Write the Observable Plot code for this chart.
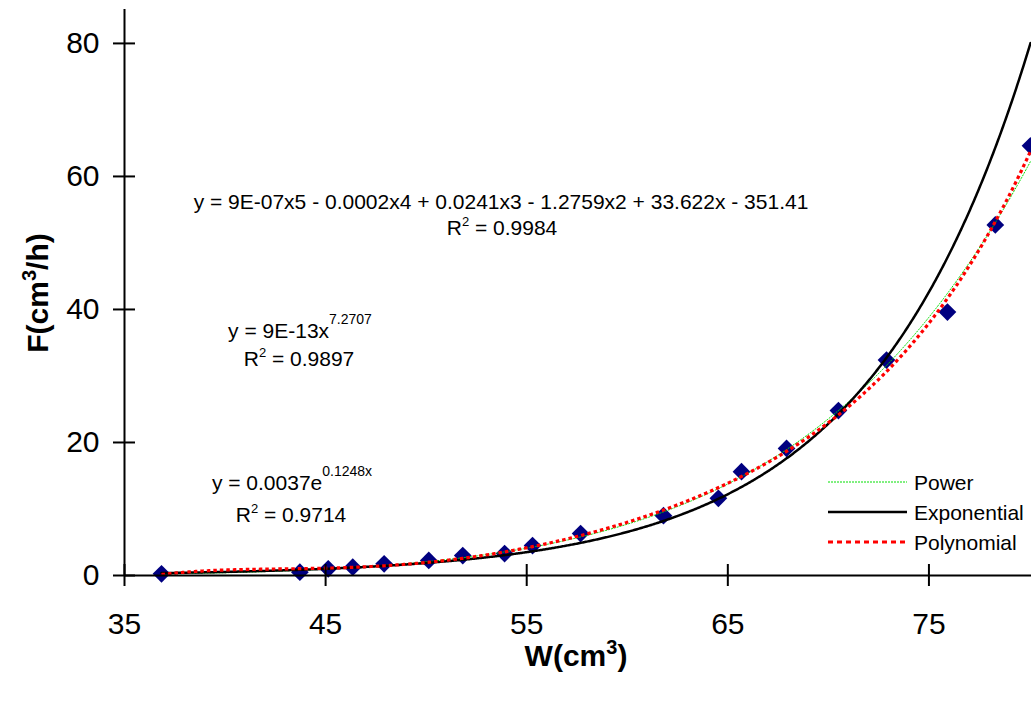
<!DOCTYPE html>
<html><head><meta charset="utf-8">
<script src="https://cdn.jsdelivr.net/npm/d3@7"></script>
<script src="https://cdn.jsdelivr.net/npm/@observablehq/plot@0.6"></script>
<style>
body{margin:0;background:#fff;font-family:"Liberation Sans",Arial,sans-serif;}
#wrap{position:relative;width:1031px;height:704px;overflow:hidden;background:#fff}
.ann{position:absolute;font-size:21px;white-space:nowrap;transform:translateX(-50%);line-height:1;color:#000}
.ann sup{line-height:0;font-size:14px;vertical-align:14px}
.ann sup.r{font-size:13px;vertical-align:9px}
.leg{position:absolute;font-size:21px;line-height:1;white-space:nowrap;color:#000}
.title{position:absolute;font-weight:bold;font-size:30px;line-height:1;white-space:nowrap;color:#000}
.title sup{line-height:0;font-size:20px;vertical-align:12px}
</style></head>
<body>
<div id="wrap"></div>
<script>
// Data
const W = [36.84, 43.72, 45.13, 46.35, 47.91, 50.13, 51.82, 53.9, 55.29, 57.68, 61.8, 64.53, 65.68, 67.92, 70.5, 72.89, 75.92, 78.3, 80.05];
const F = [0.25, 0.5, 1.0, 1.25, 1.76, 2.26, 3.0, 3.3, 4.5, 6.3, 9.0, 11.6, 15.6, 19.1, 24.8, 32.4, 39.6, 52.7, 64.6];
const xTicks = [35, 45, 55, 65, 75];
const yTicks = [0, 20, 40, 60, 80];
const seriesNames = ["Power", "Exponential", "Polynomial"];
const eqPoly = "y = 9E-07x5 - 0.0002x4 + 0.0241x3 - 1.2759x2 + 33.622x - 351.41";
const r2Poly = "0.9984";
const eqPowA = "y = 9E-13x", eqPowB = "7.2707", r2Pow = "0.9897";
const eqExpA = "y = 0.0037e", eqExpB = "0.1248x", r2Exp = "0.9714";

const data = W.map((w, i) => ({w, f: F[i]}));

// Least-squares trendlines fitted to the data (as the original chart software does)
function linfit(xs, ys) {
  const mx = d3.mean(xs), my = d3.mean(ys);
  let sxy = 0, sxx = 0;
  xs.forEach((x, i) => { sxy += (x - mx) * (ys[i] - my); sxx += (x - mx) ** 2; });
  const b = sxy / sxx;
  return {a: my - b * mx, b};
}
function polyfit(xs, ys, deg) {
  const n = deg + 1;
  const A = Array.from({length: n}, () => new Array(n + 1).fill(0));
  xs.forEach((x, k) => {
    for (let i = 0; i < n; i++) {
      for (let j = 0; j < n; j++) A[i][j] += Math.pow(x, i + j);
      A[i][n] += ys[k] * Math.pow(x, i);
    }
  });
  for (let c = 0; c < n; c++) {
    let p = c;
    for (let r = c + 1; r < n; r++) if (Math.abs(A[r][c]) > Math.abs(A[p][c])) p = r;
    [A[c], A[p]] = [A[p], A[c]];
    for (let r = 0; r < n; r++) {
      if (r === c) continue;
      const f = A[r][c] / A[c][c];
      for (let j = c; j <= n; j++) A[r][j] -= f * A[c][j];
    }
  }
  return A.map((row, i) => row[n] / row[i]);
}
const lnF = F.map(Math.log);
const pw = linfit(W.map(Math.log), lnF);
const ex = linfit(W, lnF);
const t0 = 60, ts = 20;
const pc = polyfit(W.map(w => (w - t0) / ts), F, 5);
const polyAt = w => { const t = (w - t0) / ts; return pc.reduce((s, c, i) => s + c * Math.pow(t, i), 0); };

const wMin = d3.min(W), wMax = d3.max(W);
const grid = d3.range(wMin, wMax, 0.05).concat([wMax]);
const powCurve = grid.map(w => ({w, f: Math.exp(pw.a + pw.b * Math.log(w))}));
const expCurve = grid.map(w => ({w, f: Math.exp(ex.a + ex.b * w)}));
const polyCurve = grid.map(w => ({w, f: polyAt(w)}));

const chart = Plot.plot({
  width: 1031,
  height: 704,
  marginLeft: 124,
  marginRight: 0,
  marginTop: 9,
  marginBottom: 129,
  style: {fontFamily: "Liberation Sans, Arial, sans-serif", background: "white", color: "black"},
  x: {domain: [35, 80.1], label: null},
  y: {domain: [0, 85.1], label: null},
  marks: [
    Plot.dot(data, {x: "w", y: "f", symbol: "diamond2", r: 8, fill: "#000080", stroke: "none"}),
    Plot.line(powCurve, {x: "w", y: "f", stroke: "#00e000", strokeWidth: 1, strokeDasharray: "2 1", strokeLinecap: "butt", clip: true}),
    Plot.line(expCurve, {x: "w", y: "f", stroke: "black", strokeWidth: 2.5, clip: true}),
    Plot.line(polyCurve, {x: "w", y: "f", stroke: "#ff0000", strokeWidth: 3.2, strokeDasharray: "3.5 3", strokeLinecap: "butt", clip: true}),
    Plot.ruleX([35], {stroke: "black", strokeWidth: 2}),
    Plot.ruleY([0], {stroke: "black", strokeWidth: 2}),
    Plot.axisY(yTicks, {tickSize: 22, dx: 11, strokeWidth: 2, fill: "none", label: null}),
    Plot.axisY(yTicks, {tickSize: 11, tickPadding: 14, stroke: "none", fontSize: 30, label: null}),
    Plot.axisX(xTicks, {tickSize: 22, dy: -11, strokeWidth: 2, fill: "none", label: null}),
    Plot.axisX(xTicks, {tickSize: 11, tickPadding: 26, stroke: "none", fontSize: 30, label: null})
  ]
});
const wrap = document.getElementById("wrap");
wrap.appendChild(chart);

function addDiv(cls, html, left, top, extra) {
  const d = document.createElement("div");
  d.className = cls;
  d.innerHTML = html;
  d.style.left = left + "px";
  d.style.top = top + "px";
  if (extra) Object.assign(d.style, extra);
  wrap.appendChild(d);
  return d;
}
// Trendline labels
addDiv("ann", eqPoly, 501, 191);
addDiv("ann", `R<sup class="r">2</sup> = ${r2Poly}`, 502, 217);
addDiv("ann", `${eqPowA}<sup>${eqPowB}</sup>`, 300, 319);
addDiv("ann", `R<sup class="r">2</sup> = ${r2Pow}`, 299, 348);
addDiv("ann", `${eqExpA}<sup>${eqExpB}</sup>`, 292, 471);
addDiv("ann", `R<sup class="r">2</sup> = ${r2Exp}`, 291, 504);

// Axis titles
addDiv("title", "W(cm<sup>3</sup>)", 576, 641, {transform: "translateX(-50%)"});
addDiv("title", "F(cm<sup>3</sup>/h)", 38, 293, {transform: "translate(-50%,-50%) rotate(-90deg)"});

// Legend
const legStyles = [
  {stroke: "#00e000", width: 1, dash: "2 1"},
  {stroke: "black", width: 2.5, dash: null},
  {stroke: "#ff0000", width: 3.2, dash: "5 4"}
];
const ns = "http://www.w3.org/2000/svg";
const lsvg = document.createElementNS(ns, "svg");
lsvg.setAttribute("width", 90); lsvg.setAttribute("height", 90);
Object.assign(lsvg.style, {position: "absolute", left: "824px", top: "467px"});
seriesNames.forEach((name, i) => {
  const ln = document.createElementNS(ns, "line");
  const yy = 15 + i * 30;
  ln.setAttribute("x1", 4); ln.setAttribute("x2", 83);
  ln.setAttribute("y1", yy); ln.setAttribute("y2", yy);
  ln.setAttribute("stroke", legStyles[i].stroke);
  ln.setAttribute("stroke-width", legStyles[i].width);
  if (legStyles[i].dash) ln.setAttribute("stroke-dasharray", legStyles[i].dash);
  lsvg.appendChild(ln);
  addDiv("leg", name, 914, 472 + i * 30);
});
wrap.appendChild(lsvg);
</script>
</body></html>
